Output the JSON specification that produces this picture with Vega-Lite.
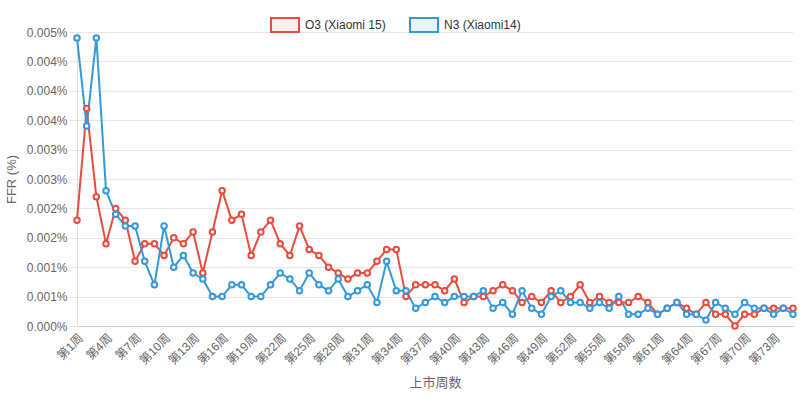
{
  "$schema": "https://vega.github.io/schema/vega-lite/v6.json",
  "width": 716,
  "height": 294,
  "autosize": {"type": "none"},
  "padding": {"left": 77, "top": 32, "right": 7, "bottom": 75},
  "background": "white",
  "config": {
    "font": "Liberation Sans, Noto Sans CJK SC",
    "view": {"stroke": null},
    "axis": {
      "labelColor": "#666666",
      "labelFontSize": 12,
      "titleColor": "#666666",
      "titleFontSize": 13,
      "titleFontWeight": "normal"
    }
  },
  "data": {
    "values": [
      {"week": "第1周", "series": "O3 (Xiaomi 15)", "ffr": 0.0018},
      {"week": "第2周", "series": "O3 (Xiaomi 15)", "ffr": 0.0037},
      {"week": "第3周", "series": "O3 (Xiaomi 15)", "ffr": 0.0022},
      {"week": "第4周", "series": "O3 (Xiaomi 15)", "ffr": 0.0014},
      {"week": "第5周", "series": "O3 (Xiaomi 15)", "ffr": 0.0020},
      {"week": "第6周", "series": "O3 (Xiaomi 15)", "ffr": 0.0018},
      {"week": "第7周", "series": "O3 (Xiaomi 15)", "ffr": 0.0011},
      {"week": "第8周", "series": "O3 (Xiaomi 15)", "ffr": 0.0014},
      {"week": "第9周", "series": "O3 (Xiaomi 15)", "ffr": 0.0014},
      {"week": "第10周", "series": "O3 (Xiaomi 15)", "ffr": 0.0012},
      {"week": "第11周", "series": "O3 (Xiaomi 15)", "ffr": 0.0015},
      {"week": "第12周", "series": "O3 (Xiaomi 15)", "ffr": 0.0014},
      {"week": "第13周", "series": "O3 (Xiaomi 15)", "ffr": 0.0016},
      {"week": "第14周", "series": "O3 (Xiaomi 15)", "ffr": 0.0009},
      {"week": "第15周", "series": "O3 (Xiaomi 15)", "ffr": 0.0016},
      {"week": "第16周", "series": "O3 (Xiaomi 15)", "ffr": 0.0023},
      {"week": "第17周", "series": "O3 (Xiaomi 15)", "ffr": 0.0018},
      {"week": "第18周", "series": "O3 (Xiaomi 15)", "ffr": 0.0019},
      {"week": "第19周", "series": "O3 (Xiaomi 15)", "ffr": 0.0012},
      {"week": "第20周", "series": "O3 (Xiaomi 15)", "ffr": 0.0016},
      {"week": "第21周", "series": "O3 (Xiaomi 15)", "ffr": 0.0018},
      {"week": "第22周", "series": "O3 (Xiaomi 15)", "ffr": 0.0014},
      {"week": "第23周", "series": "O3 (Xiaomi 15)", "ffr": 0.0012},
      {"week": "第24周", "series": "O3 (Xiaomi 15)", "ffr": 0.0017},
      {"week": "第25周", "series": "O3 (Xiaomi 15)", "ffr": 0.0013},
      {"week": "第26周", "series": "O3 (Xiaomi 15)", "ffr": 0.0012},
      {"week": "第27周", "series": "O3 (Xiaomi 15)", "ffr": 0.0010},
      {"week": "第28周", "series": "O3 (Xiaomi 15)", "ffr": 0.0009},
      {"week": "第29周", "series": "O3 (Xiaomi 15)", "ffr": 0.0008},
      {"week": "第30周", "series": "O3 (Xiaomi 15)", "ffr": 0.0009},
      {"week": "第31周", "series": "O3 (Xiaomi 15)", "ffr": 0.0009},
      {"week": "第32周", "series": "O3 (Xiaomi 15)", "ffr": 0.0011},
      {"week": "第33周", "series": "O3 (Xiaomi 15)", "ffr": 0.0013},
      {"week": "第34周", "series": "O3 (Xiaomi 15)", "ffr": 0.0013},
      {"week": "第35周", "series": "O3 (Xiaomi 15)", "ffr": 0.0005},
      {"week": "第36周", "series": "O3 (Xiaomi 15)", "ffr": 0.0007},
      {"week": "第37周", "series": "O3 (Xiaomi 15)", "ffr": 0.0007},
      {"week": "第38周", "series": "O3 (Xiaomi 15)", "ffr": 0.0007},
      {"week": "第39周", "series": "O3 (Xiaomi 15)", "ffr": 0.0006},
      {"week": "第40周", "series": "O3 (Xiaomi 15)", "ffr": 0.0008},
      {"week": "第41周", "series": "O3 (Xiaomi 15)", "ffr": 0.0004},
      {"week": "第42周", "series": "O3 (Xiaomi 15)", "ffr": 0.0005},
      {"week": "第43周", "series": "O3 (Xiaomi 15)", "ffr": 0.0005},
      {"week": "第44周", "series": "O3 (Xiaomi 15)", "ffr": 0.0006},
      {"week": "第45周", "series": "O3 (Xiaomi 15)", "ffr": 0.0007},
      {"week": "第46周", "series": "O3 (Xiaomi 15)", "ffr": 0.0006},
      {"week": "第47周", "series": "O3 (Xiaomi 15)", "ffr": 0.0004},
      {"week": "第48周", "series": "O3 (Xiaomi 15)", "ffr": 0.0005},
      {"week": "第49周", "series": "O3 (Xiaomi 15)", "ffr": 0.0004},
      {"week": "第50周", "series": "O3 (Xiaomi 15)", "ffr": 0.0006},
      {"week": "第51周", "series": "O3 (Xiaomi 15)", "ffr": 0.0004},
      {"week": "第52周", "series": "O3 (Xiaomi 15)", "ffr": 0.0005},
      {"week": "第53周", "series": "O3 (Xiaomi 15)", "ffr": 0.0007},
      {"week": "第54周", "series": "O3 (Xiaomi 15)", "ffr": 0.0004},
      {"week": "第55周", "series": "O3 (Xiaomi 15)", "ffr": 0.0005},
      {"week": "第56周", "series": "O3 (Xiaomi 15)", "ffr": 0.0004},
      {"week": "第57周", "series": "O3 (Xiaomi 15)", "ffr": 0.0004},
      {"week": "第58周", "series": "O3 (Xiaomi 15)", "ffr": 0.0004},
      {"week": "第59周", "series": "O3 (Xiaomi 15)", "ffr": 0.0005},
      {"week": "第60周", "series": "O3 (Xiaomi 15)", "ffr": 0.0004},
      {"week": "第61周", "series": "O3 (Xiaomi 15)", "ffr": 0.0002},
      {"week": "第62周", "series": "O3 (Xiaomi 15)", "ffr": 0.0003},
      {"week": "第63周", "series": "O3 (Xiaomi 15)", "ffr": 0.0004},
      {"week": "第64周", "series": "O3 (Xiaomi 15)", "ffr": 0.0003},
      {"week": "第65周", "series": "O3 (Xiaomi 15)", "ffr": 0.0002},
      {"week": "第66周", "series": "O3 (Xiaomi 15)", "ffr": 0.0004},
      {"week": "第67周", "series": "O3 (Xiaomi 15)", "ffr": 0.0002},
      {"week": "第68周", "series": "O3 (Xiaomi 15)", "ffr": 0.0002},
      {"week": "第69周", "series": "O3 (Xiaomi 15)", "ffr": 0.0000},
      {"week": "第70周", "series": "O3 (Xiaomi 15)", "ffr": 0.0002},
      {"week": "第71周", "series": "O3 (Xiaomi 15)", "ffr": 0.0002},
      {"week": "第72周", "series": "O3 (Xiaomi 15)", "ffr": 0.0003},
      {"week": "第73周", "series": "O3 (Xiaomi 15)", "ffr": 0.0003},
      {"week": "第74周", "series": "O3 (Xiaomi 15)", "ffr": 0.0003},
      {"week": "第75周", "series": "O3 (Xiaomi 15)", "ffr": 0.0003},
      {"week": "第1周", "series": "N3 (Xiaomi14)", "ffr": 0.0049},
      {"week": "第2周", "series": "N3 (Xiaomi14)", "ffr": 0.0034},
      {"week": "第3周", "series": "N3 (Xiaomi14)", "ffr": 0.0049},
      {"week": "第4周", "series": "N3 (Xiaomi14)", "ffr": 0.0023},
      {"week": "第5周", "series": "N3 (Xiaomi14)", "ffr": 0.0019},
      {"week": "第6周", "series": "N3 (Xiaomi14)", "ffr": 0.0017},
      {"week": "第7周", "series": "N3 (Xiaomi14)", "ffr": 0.0017},
      {"week": "第8周", "series": "N3 (Xiaomi14)", "ffr": 0.0011},
      {"week": "第9周", "series": "N3 (Xiaomi14)", "ffr": 0.0007},
      {"week": "第10周", "series": "N3 (Xiaomi14)", "ffr": 0.0017},
      {"week": "第11周", "series": "N3 (Xiaomi14)", "ffr": 0.0010},
      {"week": "第12周", "series": "N3 (Xiaomi14)", "ffr": 0.0012},
      {"week": "第13周", "series": "N3 (Xiaomi14)", "ffr": 0.0009},
      {"week": "第14周", "series": "N3 (Xiaomi14)", "ffr": 0.0008},
      {"week": "第15周", "series": "N3 (Xiaomi14)", "ffr": 0.0005},
      {"week": "第16周", "series": "N3 (Xiaomi14)", "ffr": 0.0005},
      {"week": "第17周", "series": "N3 (Xiaomi14)", "ffr": 0.0007},
      {"week": "第18周", "series": "N3 (Xiaomi14)", "ffr": 0.0007},
      {"week": "第19周", "series": "N3 (Xiaomi14)", "ffr": 0.0005},
      {"week": "第20周", "series": "N3 (Xiaomi14)", "ffr": 0.0005},
      {"week": "第21周", "series": "N3 (Xiaomi14)", "ffr": 0.0007},
      {"week": "第22周", "series": "N3 (Xiaomi14)", "ffr": 0.0009},
      {"week": "第23周", "series": "N3 (Xiaomi14)", "ffr": 0.0008},
      {"week": "第24周", "series": "N3 (Xiaomi14)", "ffr": 0.0006},
      {"week": "第25周", "series": "N3 (Xiaomi14)", "ffr": 0.0009},
      {"week": "第26周", "series": "N3 (Xiaomi14)", "ffr": 0.0007},
      {"week": "第27周", "series": "N3 (Xiaomi14)", "ffr": 0.0006},
      {"week": "第28周", "series": "N3 (Xiaomi14)", "ffr": 0.0008},
      {"week": "第29周", "series": "N3 (Xiaomi14)", "ffr": 0.0005},
      {"week": "第30周", "series": "N3 (Xiaomi14)", "ffr": 0.0006},
      {"week": "第31周", "series": "N3 (Xiaomi14)", "ffr": 0.0007},
      {"week": "第32周", "series": "N3 (Xiaomi14)", "ffr": 0.0004},
      {"week": "第33周", "series": "N3 (Xiaomi14)", "ffr": 0.0011},
      {"week": "第34周", "series": "N3 (Xiaomi14)", "ffr": 0.0006},
      {"week": "第35周", "series": "N3 (Xiaomi14)", "ffr": 0.0006},
      {"week": "第36周", "series": "N3 (Xiaomi14)", "ffr": 0.0003},
      {"week": "第37周", "series": "N3 (Xiaomi14)", "ffr": 0.0004},
      {"week": "第38周", "series": "N3 (Xiaomi14)", "ffr": 0.0005},
      {"week": "第39周", "series": "N3 (Xiaomi14)", "ffr": 0.0004},
      {"week": "第40周", "series": "N3 (Xiaomi14)", "ffr": 0.0005},
      {"week": "第41周", "series": "N3 (Xiaomi14)", "ffr": 0.0005},
      {"week": "第42周", "series": "N3 (Xiaomi14)", "ffr": 0.0005},
      {"week": "第43周", "series": "N3 (Xiaomi14)", "ffr": 0.0006},
      {"week": "第44周", "series": "N3 (Xiaomi14)", "ffr": 0.0003},
      {"week": "第45周", "series": "N3 (Xiaomi14)", "ffr": 0.0004},
      {"week": "第46周", "series": "N3 (Xiaomi14)", "ffr": 0.0002},
      {"week": "第47周", "series": "N3 (Xiaomi14)", "ffr": 0.0006},
      {"week": "第48周", "series": "N3 (Xiaomi14)", "ffr": 0.0003},
      {"week": "第49周", "series": "N3 (Xiaomi14)", "ffr": 0.0002},
      {"week": "第50周", "series": "N3 (Xiaomi14)", "ffr": 0.0005},
      {"week": "第51周", "series": "N3 (Xiaomi14)", "ffr": 0.0006},
      {"week": "第52周", "series": "N3 (Xiaomi14)", "ffr": 0.0004},
      {"week": "第53周", "series": "N3 (Xiaomi14)", "ffr": 0.0004},
      {"week": "第54周", "series": "N3 (Xiaomi14)", "ffr": 0.0003},
      {"week": "第55周", "series": "N3 (Xiaomi14)", "ffr": 0.0004},
      {"week": "第56周", "series": "N3 (Xiaomi14)", "ffr": 0.0003},
      {"week": "第57周", "series": "N3 (Xiaomi14)", "ffr": 0.0005},
      {"week": "第58周", "series": "N3 (Xiaomi14)", "ffr": 0.0002},
      {"week": "第59周", "series": "N3 (Xiaomi14)", "ffr": 0.0002},
      {"week": "第60周", "series": "N3 (Xiaomi14)", "ffr": 0.0003},
      {"week": "第61周", "series": "N3 (Xiaomi14)", "ffr": 0.0002},
      {"week": "第62周", "series": "N3 (Xiaomi14)", "ffr": 0.0003},
      {"week": "第63周", "series": "N3 (Xiaomi14)", "ffr": 0.0004},
      {"week": "第64周", "series": "N3 (Xiaomi14)", "ffr": 0.0002},
      {"week": "第65周", "series": "N3 (Xiaomi14)", "ffr": 0.0002},
      {"week": "第66周", "series": "N3 (Xiaomi14)", "ffr": 0.0001},
      {"week": "第67周", "series": "N3 (Xiaomi14)", "ffr": 0.0004},
      {"week": "第68周", "series": "N3 (Xiaomi14)", "ffr": 0.0003},
      {"week": "第69周", "series": "N3 (Xiaomi14)", "ffr": 0.0002},
      {"week": "第70周", "series": "N3 (Xiaomi14)", "ffr": 0.0004},
      {"week": "第71周", "series": "N3 (Xiaomi14)", "ffr": 0.0003},
      {"week": "第72周", "series": "N3 (Xiaomi14)", "ffr": 0.0003},
      {"week": "第73周", "series": "N3 (Xiaomi14)", "ffr": 0.0002},
      {"week": "第74周", "series": "N3 (Xiaomi14)", "ffr": 0.0003},
      {"week": "第75周", "series": "N3 (Xiaomi14)", "ffr": 0.0002}
    ]
  },
  "encoding": {
    "x": {
      "field": "week",
      "type": "ordinal",
      "sort": null,
      "scale": {"type": "point", "padding": 0},
      "title": "上市周数",
      "axis": {
        "values": ["第1周", "第4周", "第7周", "第10周", "第13周", "第16周", "第19周", "第22周", "第25周", "第28周", "第31周", "第34周", "第37周", "第40周", "第43周", "第46周", "第49周", "第52周", "第55周", "第58周", "第61周", "第64周", "第67周", "第70周", "第73周"],
        "labelAngle": -45,
        "ticks": false,
        "grid": false,
        "domainColor": "#cccccc",
        "labelPadding": 6,
        "titlePadding": 10
      }
    },
    "y": {
      "field": "ffr",
      "type": "quantitative",
      "title": "FFR (%)",
      "scale": {"domain": [0, 0.005], "nice": false},
      "axis": {
        "values": [0, 0.0005, 0.001, 0.0015, 0.002, 0.0025, 0.003, 0.0035, 0.004, 0.0045, 0.005],
        "labelExpr": "format(datum.value, '.3f') + '%'",
        "gridColor": "#e6e6e6",
        "tickColor": "#e6e6e6",
        "tickSize": 8,
        "domainColor": "#dddddd",
        "labelPadding": 2,
        "titlePadding": 8
      }
    },
    "color": {
      "field": "series",
      "type": "nominal",
      "scale": {
        "domain": ["O3 (Xiaomi 15)", "N3 (Xiaomi14)"],
        "range": ["#e74c3c", "#3498db"]
      },
      "legend": {
        "title": null,
        "orient": "none",
        "direction": "horizontal",
        "legendX": 193,
        "legendY": -22,
        "symbolType": "M-1,-0.5H1V0.5H-1Z",
        "symbolSize": 784,
        "labelFontSize": 12,
        "labelColor": "#333333",
        "labelOffset": 5,
        "columnPadding": 20,
        "encode": {
          "symbols": {
            "update": {
              "fill": {"scale": "color", "field": "value"},
              "fillOpacity": {"value": 0.1},
              "stroke": {"scale": "color", "field": "value"},
              "strokeWidth": {"value": 2}
            }
          }
        }
      }
    }
  },
  "layer": [
    {
      "mark": {"type": "line", "strokeWidth": 2}
    },
    {
      "mark": {"type": "point", "shape": "circle", "filled": false, "fill": "white", "fillOpacity": 1, "size": 30, "strokeWidth": 2, "opacity": 1}
    }
  ]
}
